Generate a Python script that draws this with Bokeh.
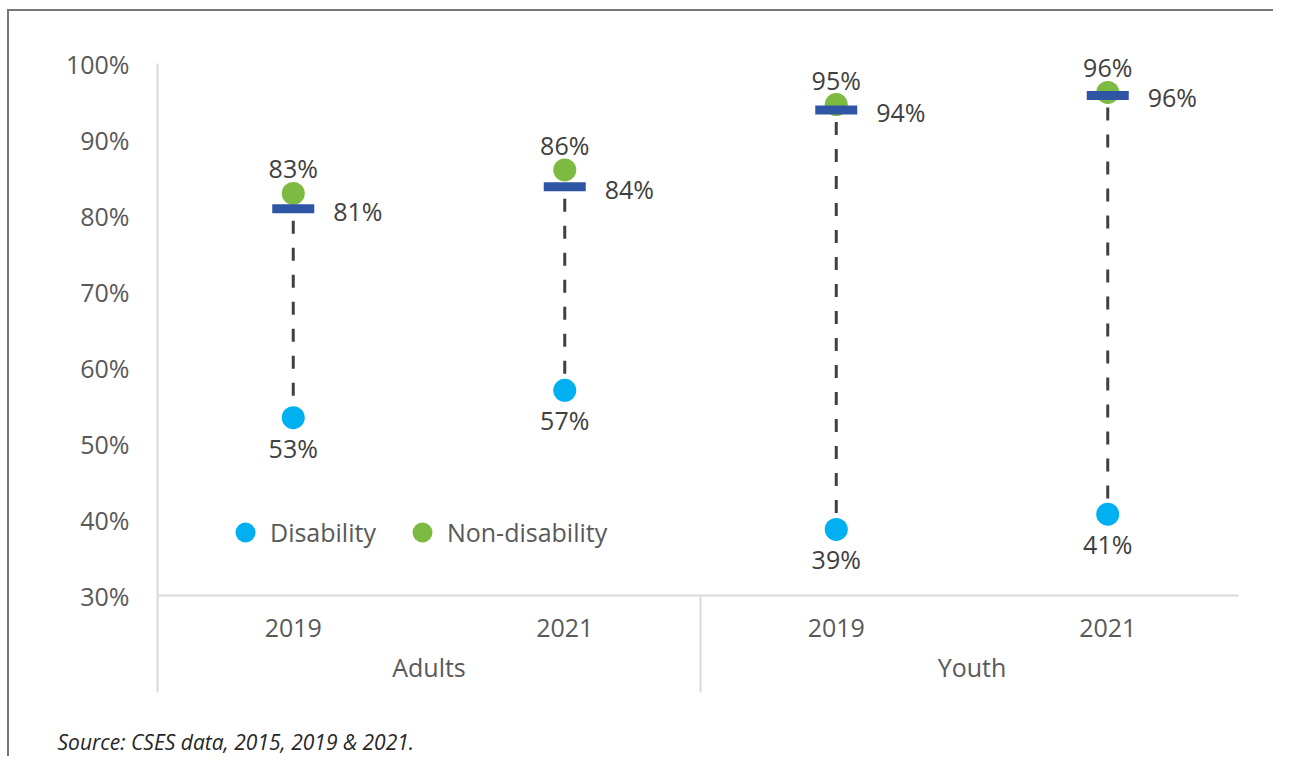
from bokeh.plotting import figure
from bokeh.models import (ColumnDataSource, Range1d, FixedTicker, LinearAxis,
                          PrintfTickFormatter, Legend, LegendItem, Title, InlineStyleSheet)
from bokeh.core.properties import value
from bokeh.embed import file_html
from bokeh.resources import INLINE

# ---------------- data ----------------
groups = ["Adults", "Adults", "Youth", "Youth"]
years = ["2019", "2021", "2019", "2021"]
disability = [53.4, 57.0, 38.7, 40.7]
non_disability = [82.9, 86.0, 94.6, 96.2]
overall = [80.9, 83.8, 93.9, 95.8]
y_ticks = [30, 40, 50, 60, 70, 80, 90, 100]
series_names = ["Disability", "Non-disability"]
source_note = "Source: CSES data, 2015, 2019 & 2021."

FONT = "Open Sans"
AXIS_GREY = "#D9D9D9"
TICK_TXT = "#595959"
LBL_TXT = "#404040"
C_DIS = "#00B0F0"
C_NON = "#7DBA42"
C_TOT = "#2F55A5"

n = len(years)
xs = [i + 0.5 for i in range(n)]
group_names = list(dict.fromkeys(groups))
group_edges = [groups.index(g) for g in group_names]
group_centers = []
for g in group_names:
    idx = [i for i, gg in enumerate(groups) if gg == g]
    c = (min(idx) + max(idx) + 1) / 2
    group_centers.append(int(c) if float(c).is_integer() else c)

src = ColumnDataSource(dict(
    x=xs, dis=disability, nd=non_disability, tot=overall,
    dis_lbl=[f"{round(v)}%" for v in disability],
    nd_lbl=[f"{round(v)}%" for v in non_disability],
    tot_lbl=[f"{round(v)}%" for v in overall],
))

W, H = 1273, 756
p = figure(width=W, height=H, output_backend="svg", toolbar_location=None,
           x_range=Range1d(0, n), y_range=Range1d(30, 101.45),
           x_axis_location=None)
p.min_border_left = 157
p.min_border_right = 30
p.min_border_top = 52
p.min_border_bottom = 161
p.outline_line_color = None
p.grid.grid_line_color = None
p.background_fill_color = "white"
p.border_fill_color = "white"

# outer chart border (only its top and left edges fall inside the picture)
p.stylesheets = [InlineStyleSheet(css="""
:host { position: relative; }
:host::after { content: ""; position: absolute; left: 7px; top: 9px; right: 0; bottom: 0;
  border-top: 2px solid #767676; border-left: 2px solid #767676; pointer-events: none; }
""")]

# y axis
yax = p.yaxis[0]
yax.ticker = FixedTicker(ticks=y_ticks)
yax.bounds = (30, 100)
yax.formatter = PrintfTickFormatter(format="%d%%")
yax.major_tick_line_color = None
yax.minor_tick_line_color = None
yax.major_tick_out = 0
yax.axis_line_color = AXIS_GREY
yax.axis_line_width = 2
yax.major_label_text_font = FONT
yax.major_label_text_font_size = "25px"
yax.major_label_text_color = TICK_TXT
yax.major_label_standoff = 28

# x axis: years
ax1 = LinearAxis(ticker=FixedTicker(ticks=xs, minor_ticks=[]),
                 major_label_overrides={x: y for x, y in zip(xs, years)})
ax1.bounds = (0, 3.98)
ax1.major_tick_line_color = None
ax1.minor_tick_line_color = None
ax1.major_tick_out = 0
ax1.major_tick_in = 0
ax1.axis_line_color = AXIS_GREY
ax1.axis_line_width = 2
ax1.major_label_text_font = FONT
ax1.major_label_text_font_size = "25px"
ax1.major_label_text_color = TICK_TXT
ax1.major_label_standoff = 23
p.add_layout(ax1, "below")

# x axis: groups
ax2 = LinearAxis(ticker=FixedTicker(ticks=group_centers, minor_ticks=[]),
                 major_label_overrides={x: y for x, y in zip(group_centers, group_names)})
ax2.axis_line_color = None
ax2.major_tick_line_color = None
ax2.minor_tick_line_color = None
ax2.major_tick_out = 0
ax2.major_label_text_font = FONT
ax2.major_label_text_font_size = "25px"
ax2.major_label_text_color = TICK_TXT
ax2.major_label_standoff = 10
p.add_layout(ax2, "below")

# group separators (ticks reaching up to the frame); blank axis label spaces the note
ax3 = LinearAxis(ticker=FixedTicker(ticks=[], minor_ticks=group_edges))
ax3.axis_line_color = None
ax3.major_tick_line_color = None
ax3.major_tick_out = 0
ax3.major_label_text_font_size = "0px"
ax3.major_label_standoff = 0
ax3.minor_tick_in = 91
ax3.minor_tick_out = 6
ax3.minor_tick_line_color = AXIS_GREY
ax3.minor_tick_line_width = 2
ax3.axis_label = "\u00a0"
ax3.axis_label_standoff = 0
ax3.axis_label_text_font = FONT
ax3.axis_label_text_font_size = "22px"
ax3.axis_label_text_font_style = "normal"
p.add_layout(ax3, "below")

p.add_layout(Title(text=source_note, align="left", offset=-100, standoff=0,
                   text_font=FONT, text_font_style="italic", text_font_size="21px",
                   text_color="#262626"), "below")

# marks
p.segment(x0="x", y0="tot", x1="x", y1="dis", source=src, line_color=LBL_TXT,
          line_width=3, line_dash="13 14", line_dash_offset=15)
r_dis = p.scatter("x", "dis", source=src, size=23, marker="circle",
                  fill_color=C_DIS, line_color=None)
r_nd = p.scatter("x", "nd", source=src, size=23, marker="circle",
                 fill_color=C_NON, line_color=None)
p.rect("x", "tot", width=42, height=9, width_units="screen", height_units="screen",
       source=src, fill_color=C_TOT, line_color=None)

common = dict(source=src, text_font=value(FONT), text_font_size="25px",
              text_color=LBL_TXT, text_baseline="middle")
p.text("x", "nd", text="nd_lbl", text_align="center", y_offset=-25, **common)
p.text("x", "tot", text="tot_lbl", text_align="left", x_offset=40, y_offset=2, **common)
p.text("x", "dis", text="dis_lbl", text_align="center", y_offset=30, **common)

legend = Legend(items=[LegendItem(label=series_names[0], renderers=[r_dis]),
                       LegendItem(label=series_names[1], renderers=[r_nd])],
                orientation="horizontal", location=(63, 38),
                glyph_width=50, glyph_height=50, label_standoff=-18, spacing=21,
                padding=0, margin=0, border_line_color=None,
                background_fill_alpha=0,
                label_text_font=FONT, label_text_font_size="25px",
                label_text_color=TICK_TXT)
p.add_layout(legend)

open("out.html", "w").write(file_html(p, INLINE))
